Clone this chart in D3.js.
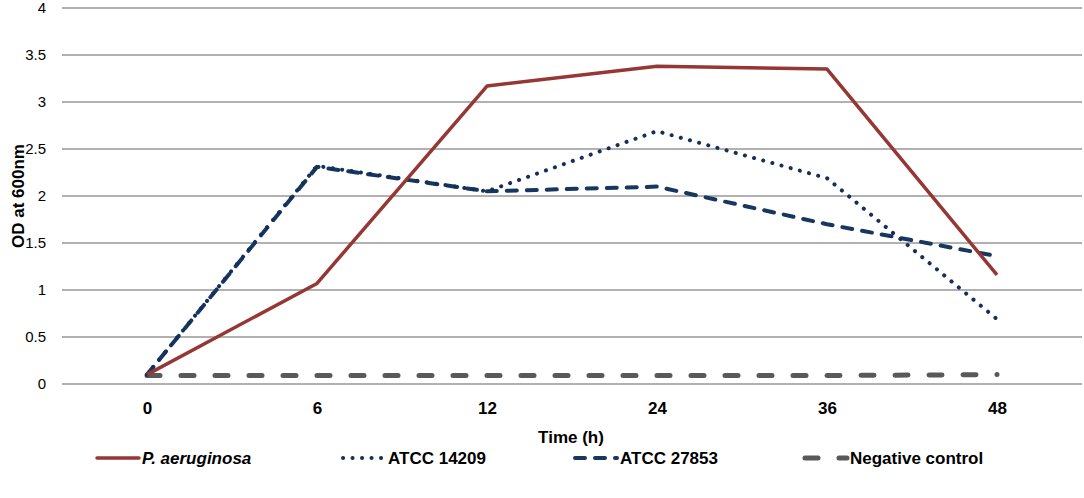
<!DOCTYPE html>
<html>
<head>
<meta charset="utf-8">
<script src="https://cdn.jsdelivr.net/npm/d3@7"></script>
<style>
  body { margin: 0; background: #fff; }
  text { font-family: "Liberation Sans Narrow", "Liberation Sans", sans-serif; }
</style>
</head>
<body>
<div id="chart"></div>
<script>
// Data
const times = ["0", "6", "12", "24", "36", "48"];
const pAeruginosa = [0.1, 1.07, 3.17, 3.38, 3.35, 1.16];
const atcc14209 = [0.1, 2.32, 2.05, 2.69, 2.19, 0.69];
const atcc27853 = [0.1, 2.31, 2.05, 2.1, 1.7, 1.36];
const negControl = [0.09, 0.09, 0.09, 0.09, 0.09, 0.1];
const yTicks = [0, 0.5, 1, 1.5, 2, 2.5, 3, 3.5, 4];

const series = [
  { name: "P. aeruginosa", values: pAeruginosa, color: "#953735", width: 3.5, dash: null, cap: "butt", italic: true },
  { name: "ATCC 14209", values: atcc14209, color: "#14305a", width: 4, dash: "0.1 9.4", cap: "round" },
  { name: "ATCC 27853", values: atcc27853, color: "#17375e", width: 4, dash: "10 10", cap: "round" },
  { name: "Negative control", values: negControl, color: "#595959", width: 5, dash: "13 21", cap: "round" }
];

const width = 1084, height = 498;
const margin = { left: 62, right: 2, top: 8 };
const plotBottom = 384;

const svg = d3.select("#chart").append("svg")
  .attr("width", width)
  .attr("height", height);

const x = d3.scalePoint()
  .domain(times)
  .range([margin.left, width - margin.right])
  .padding(0.5);

const y = d3.scaleLinear()
  .domain([0, 4])
  .range([plotBottom, margin.top]);

// gridlines
svg.append("g")
  .selectAll("line")
  .data(yTicks)
  .join("line")
  .attr("x1", margin.left)
  .attr("x2", width - margin.right)
  .attr("y1", d => y(d))
  .attr("y2", d => y(d))
  .attr("stroke", "#979797")
  .attr("stroke-width", 1.5);

// y axis labels
const yAxis = svg.append("g")
  .attr("transform", `translate(${margin.left},0)`)
  .call(d3.axisLeft(y).tickValues(yTicks).tickSize(0).tickPadding(16).tickFormat(d3.format("~g")));
yAxis.select(".domain").remove();
yAxis.selectAll("text")
  .attr("font-size", 16)
  .attr("fill", "#000")
  .style("font-family", "'Liberation Sans', sans-serif")
  .style("font-size", "15px");

// x axis labels
const xAxis = svg.append("g")
  .attr("transform", `translate(0,${plotBottom})`)
  .call(d3.axisBottom(x).tickSize(0).tickPadding(18));
xAxis.select(".domain").remove();
xAxis.selectAll("text")
  .attr("fill", "#000")
  .style("font-size", "17px")
  .style("font-weight", "bold");

// axis titles
svg.append("text")
  .attr("x", 571)
  .attr("y", 443)
  .attr("text-anchor", "middle")
  .style("font-size", "17px")
  .style("font-weight", "bold")
  .text("Time (h)");

svg.append("text")
  .attr("transform", "translate(24,196) rotate(-90)")
  .attr("text-anchor", "middle")
  .style("font-size", "17px")
  .style("font-weight", "bold")
  .text("OD at 600nm");

// lines
const line = d3.line()
  .x((d, i) => x(times[i]))
  .y(d => y(d));

svg.append("g")
  .selectAll("path")
  .data(series.slice().reverse())
  .join("path")
  .attr("d", d => line(d.values))
  .attr("fill", "none")
  .attr("stroke", d => d.color)
  .attr("stroke-width", d => d.width)
  .attr("stroke-dasharray", d => d.dash)
  .attr("stroke-linecap", d => d.cap)
  .attr("stroke-linejoin", "round");

// legend
const legendX = [95, 341, 573, 803];
const legendY = 458;
const legend = svg.append("g")
  .selectAll("g")
  .data(series)
  .join("g")
  .attr("transform", (d, i) => `translate(${legendX[i]},${legendY})`);

legend.append("line")
  .attr("x1", 2)
  .attr("x2", 44)
  .attr("stroke", d => d.color)
  .attr("stroke-width", d => d.width)
  .attr("stroke-dasharray", d => d.dash)
  .attr("stroke-linecap", d => d.cap === "butt" ? "round" : d.cap);

legend.append("text")
  .attr("x", 47)
  .attr("dy", "0.35em")
  .style("font-size", "17px")
  .style("font-weight", "bold")
  .style("font-style", d => d.italic ? "italic" : "normal")
  .text(d => d.name);
</script>
</body>
</html>
